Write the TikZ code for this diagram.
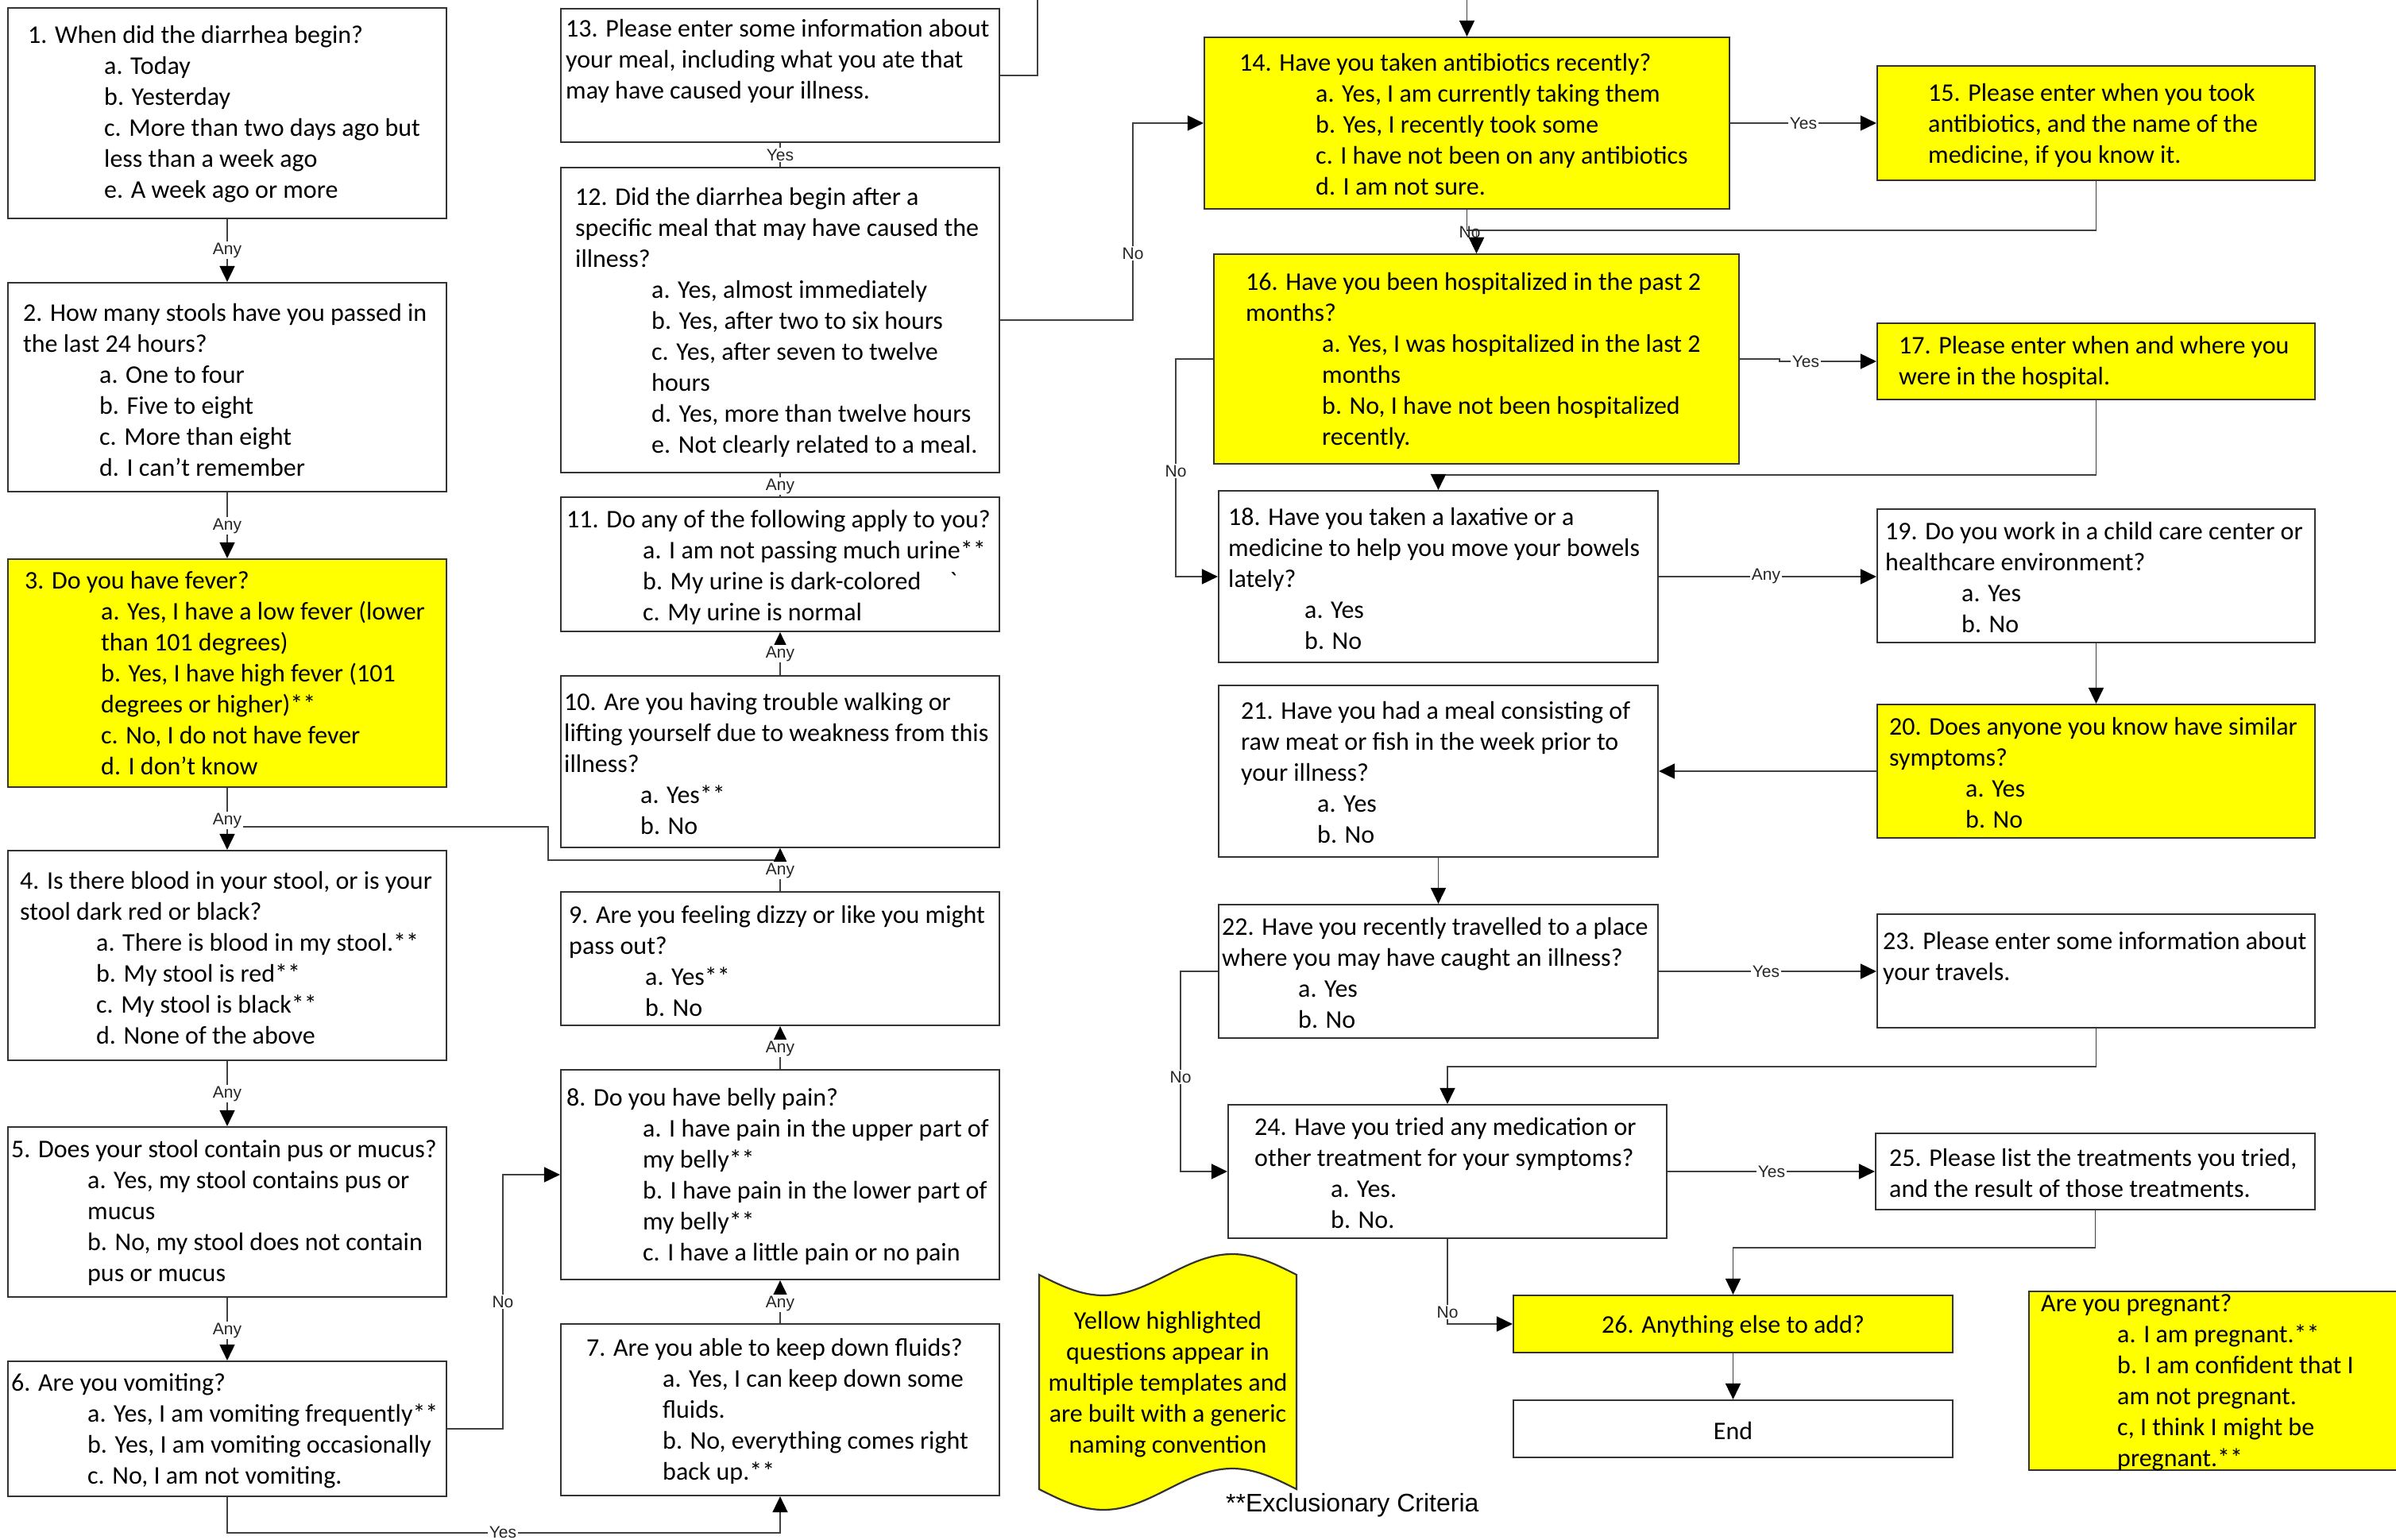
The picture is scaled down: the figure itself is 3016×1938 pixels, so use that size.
\documentclass[tikz,border=0pt]{standalone}
\usepackage{fontspec}
\setmainfont{Carlito}
\newfontfamily\arialf{Liberation Sans}
\usetikzlibrary{arrows.meta}
\definecolor{hl}{HTML}{FFFF00}
\newcommand\qbox[6]{\node[qb, fill=#6, minimum width={(#4)-(#2)}, minimum height={(#5)-(#3)}] (#1) at ({((#2)+(#4))/2},{((#3)+(#5))/2}) {};}
\newcommand\opt{\hspace*{96pt}}
\begin{document}
\begin{tikzpicture}[x=1pt,y=-1pt,
  qb/.style={rectangle, draw=black!80, line width=2.2pt, inner sep=0pt},
  qt/.style={anchor=west, align=left, inner sep=0pt, yshift=-4pt, font=\fontsize{32}{39}\selectfont},
  conn/.style={draw=black!75, line width=1.8pt, -{Triangle[length=20pt,width=19pt,color=black]}},
  plain/.style={draw=black!75, line width=1.8pt},
  lab/.style={font=\arialf\fontsize{21}{24}\selectfont, fill=white, inner sep=1.5pt, text=black!85}]
\useasboundingbox (0,0) rectangle (3016,1938);
\clip (0,0) rectangle (3016,1938);
\fill[white] (0,0) rectangle (3016,1938);

% ---------- boxes ----------
\qbox{q1}{10}{10}{562}{275}{white}
\qbox{q2}{10}{356}{562}{619}{white}
\qbox{q3}{10}{704}{562}{991}{hl}
\qbox{q4}{10}{1071}{562}{1335}{white}
\qbox{q5}{10}{1419}{562}{1633}{white}
\qbox{q6}{10}{1714}{562}{1884}{white}
\qbox{q13}{706}{11}{1258}{179}{white}
\qbox{q12}{706}{211}{1258}{595}{white}
\qbox{q11}{706}{626}{1258}{795}{white}
\qbox{q10}{706}{851}{1258}{1067}{white}
\qbox{q9}{706}{1123}{1258}{1291}{white}
\qbox{q8}{706}{1347}{1258}{1611}{white}
\qbox{q7}{706}{1667}{1258}{1883}{white}
\qbox{q14}{1516}{47}{2177}{263}{hl}
\qbox{q15}{2363}{83}{2914}{227}{hl}
\qbox{q16}{1528}{320}{2189}{584}{hl}
\qbox{q17}{2363}{407}{2914}{503}{hl}
\qbox{q18}{1534}{618}{2087}{834}{white}
\qbox{q19}{2363}{641}{2914}{809}{white}
\qbox{q20}{2363}{887}{2914}{1055}{hl}
\qbox{q21}{1534}{863}{2087}{1079}{white}
\qbox{q22}{1534}{1139}{2087}{1307}{white}
\qbox{q23}{2363}{1151}{2914}{1294}{white}
\qbox{q24}{1546}{1391}{2098}{1559}{white}
\qbox{q25}{2361}{1427}{2914}{1523}{white}
\qbox{q26}{1905}{1631}{2458}{1703}{hl}
\qbox{qend}{1905}{1763}{2458}{1835}{white}
\qbox{qpreg}{2554}{1626}{3030}{1851}{hl}

% wavy note shape
\draw[fill=hl, draw=black!80, line width=2.2pt]
  plot[domain=0:324,samples=60] ({1308+\x},{1605+26*sin(1.1111111*\x)})
  -- plot[domain=324:0,samples=60] ({1308+\x},{1875+26*sin(1.1111111*\x)}) -- cycle;

% ---------- texts ----------
\node[qt] (t1) at (35,140) {1. When did the diarrhea begin?\\ \opt a. Today\\ \opt b. Yesterday\\ \opt c. More than two days ago but\\ \opt less than a week ago\\ \opt e. A week ago or more};
\node[qt] (t2) at (29,487) {2. How many stools have you passed in\\ the last 24 hours?\\ \opt a. One to four\\ \opt b. Five to eight\\ \opt c. More than eight\\ \opt d. I can’t remember};
\node[qt] (t3) at (31,844) {3. Do you have fever?\\ \opt a. Yes, I have a low fever (lower\\ \opt than 101 degrees)\\ \opt b. Yes, I have high fever (101\\ \opt degrees or higher)**\\ \opt c. No, I do not have fever\\ \opt d. I don’t know};
\node[qt] (t4) at (25,1202) {4. Is there blood in your stool, or is your\\ stool dark red or black?\\ \opt a. There is blood in my stool.**\\ \opt b. My stool is red**\\ \opt c. My stool is black**\\ \opt d. None of the above};
\node[qt] (t5) at (14,1523) {5. Does your stool contain pus or mucus?\\ \opt a. Yes, my stool contains pus or\\ \opt mucus\\ \opt b. No, my stool does not contain\\ \opt pus or mucus};
\node[qt] (t6) at (14,1798) {6. Are you vomiting?\\ \opt a. Yes, I am vomiting frequently**\\ \opt b. Yes, I am vomiting occasionally\\ \opt c. No, I am not vomiting.};
\node[qt] (t7) at (738,1773) {7. Are you able to keep down fluids?\\ \opt a. Yes, I can keep down some\\ \opt fluids.\\ \opt b. No, everything comes right\\ \opt back up.**};
\node[qt] (t8) at (713,1477) {8. Do you have belly pain?\\ \opt a. I have pain in the upper part of\\ \opt my belly**\\ \opt b. I have pain in the lower part of\\ \opt my belly**\\ \opt c. I have a little pain or no pain};
\node[qt] (t9) at (716,1206) {9. Are you feeling dizzy or like you might\\ pass out?\\ \opt a. Yes**\\ \opt b. No};
\node[qt] (t10) at (710,958) {10. Are you having trouble walking or\\ lifting yourself due to weakness from this\\ illness?\\ \opt a. Yes**\\ \opt b. No};
\node[qt] (t11) at (713,710) {11. Do any of the following apply to you?\\ \opt a. I am not passing much urine**\\ \opt b. My urine is dark-colored\hspace{36pt}\textasciigrave\\ \opt c. My urine is normal};
\node[qt] (t12) at (724,402) {12. Did the diarrhea begin after a\\ specific meal that may have caused the\\ illness?\\ \opt a. Yes, almost immediately\\ \opt b. Yes, after two to six hours\\ \opt c. Yes, after seven to twelve\\ \opt hours\\ \opt d. Yes, more than twelve hours\\ \opt e. Not clearly related to a meal.};
\node[qt] (t13) at (712,73) {13. Please enter some information about\\ your meal, including what you ate that\\ may have caused your illness.};
\node[qt] (t14) at (1560,153) {14. Have you taken antibiotics recently?\\ \opt a. Yes, I am currently taking them\\ \opt b. Yes, I recently took some\\ \opt c. I have not been on any antibiotics\\ \opt d. I am not sure.};
\node[qt] (t15) at (2427,154) {15. Please enter when you took\\ antibiotics, and the name of the\\ medicine, if you know it.};
\node[qt] (t16) at (1568,450) {16. Have you been hospitalized in the past 2\\ months?\\ \opt a. Yes, I was hospitalized in the last 2\\ \opt months\\ \opt b. No, I have not been hospitalized\\ \opt recently.};
\node[qt] (t17) at (2390,452) {17. Please enter when and where you\\ were in the hospital.};
\node[qt] (t18) at (1546,725) {18. Have you taken a laxative or a\\ medicine to help you move your bowels\\ lately?\\ \opt a. Yes\\ \opt b. No};
\node[qt] (t19) at (2373,723) {19. Do you work in a child care center or\\ healthcare environment?\\ \opt a. Yes\\ \opt b. No};
\node[qt] (t20) at (2378,969) {20. Does anyone you know have similar\\ symptoms?\\ \opt a. Yes\\ \opt b. No};
\node[qt] (t21) at (1562,969) {21. Have you had a meal consisting of\\ raw meat or fish in the week prior to\\ your illness?\\ \opt a. Yes\\ \opt b. No};
\node[qt] (t22) at (1538,1221) {22. Have you recently travelled to a place\\ where you may have caught an illness?\\ \opt a. Yes\\ \opt b. No};
\node[qt] (t23) at (2370,1202) {23. Please enter some information about\\ your travels.};
\node[qt] (t24) at (1579,1473) {24. Have you tried any medication or\\ other treatment for your symptoms?\\ \opt a. Yes.\\ \opt b. No.};
\node[qt] (t25) at (2378,1473) {25. Please list the treatments you tried,\\ and the result of those treatments.};
\node[qt, anchor=center] (t26) at (2181.5,1666) {26. Anything else to add?};
\node[qt, anchor=center] (tend) at (2181.5,1797) {End};
\node[qt] (tpreg) at (2569,1737) {Are you pregnant?\\ \opt a. I am pregnant.**\\ \opt b. I am confident that I\\ \opt am not pregnant.\\ \opt c, I think I might be\\ \opt pregnant.**};
\node[qt, anchor=center, align=center] (twave) at (1470,1739) {Yellow highlighted\\ questions appear in\\ multiple templates and\\ are built with a generic\\ naming convention};
\node[anchor=west, inner sep=0pt, font=\arialf\fontsize{32}{38}\selectfont] (excl) at (1543,1895) {**Exclusionary Criteria};

% ---------- connectors ----------
\draw[conn] (q1) -- (q2);
\draw[conn] (q2) -- (q3);
\draw[conn] (q3) -- (q4);
\draw[conn] (q4) -- (q5);
\draw[conn] (q5) -- (q6);
\draw[conn] (q3.south) -- (286,1041) -- (690,1041) -- (690,1083) -| (q10.south);
\draw[conn] (q6.south) -- (286,1930) -| (q7.south);
\draw[conn] (q6.east) -- (633,1799) |- (q8.west);
\draw[conn] (q7) -- (q8);
\draw[conn] (q8) -- (q9);
\draw[conn] (q9) -- (q10);
\draw[conn] (q10) -- (q11);
\draw[plain] (q11) -- (q12);
\draw[plain] (q12) -- (q13);
\draw[conn] (q12.east) -- (1426,403) |- (q14.west);
\draw[conn] (q13.east) -- (1306,95) -- (1306,-30) -| (q14.north);
\draw[conn] (q14.east) -- (q15.west);
\draw[conn] (q14.south) -- (1846.5,290) -| (q16.north);
\draw[conn] (q15.south) |- (1858.5,290) -- (q16.north);
\draw[conn] (q16.east) -- (2240,452) |- (q17.west);
\draw[conn] (q16.west) -- (1480,452) |- (q18.west);
\draw[conn] (q17.south) -- (2638.5,598) -| (q18.north);
\draw[conn] (q18.east) -- (q18.east -| q19.west);
\draw[conn] (q19) -- (q20);
\draw[conn] (q20.west) -- (q20.west -| q21.east);
\draw[conn] (q21) -- (q22);
\draw[conn] (q22.east) -- (q22.east -| q23.west);
\draw[conn] (q22.west) -- (1486,1223) |- (q24.west);
\draw[conn] (q23.south) -- (2638.5,1343) -| (q24.north);
\draw[conn] (q24.east) -- (q24.east -| q25.west);
\draw[conn] (q25.south) -- (2637.5,1571) -| (q26.north);
\draw[conn] (q24.south) |- (q26.west);
\draw[conn] (q26) -- (qend);

% ---------- connector labels ----------
\node[lab] (l1) at (286,315) {Any};
\node[lab] (l2) at (286,662) {Any};
\node[lab] (l3) at (286,1033) {Any};
\node[lab] (l4) at (286,1377) {Any};
\node[lab] (l5) at (286,1675) {Any};
\node[lab] (l6) at (633,1929) {Yes};
\node[lab] (l7) at (633,1639) {No};
\node[lab] (l8) at (982,1641) {Any};
\node[lab] (l9) at (982,1320) {Any};
\node[lab] (l10) at (982,1096) {Any};
\node[lab] (l11) at (982,823) {Any};
\node[lab] (l12) at (982,612) {Any};
\node[lab] (l13) at (982,195) {Yes};
\node[lab] (l14) at (1426,319) {No};
\node[lab] (l15) at (2270,155) {Yes};
\node[lab, fill=none] (l16) at (1850,292) {No};
\node[lab] (l17) at (2273,455) {Yes};
\node[lab] (l18) at (1480,593) {No};
\node[lab] (l19) at (2223,725) {Any};
\node[lab] (l20) at (2223,1223) {Yes};
\node[lab] (l21) at (1486,1356) {No};
\node[lab] (l22) at (2230,1475) {Yes};
\node[lab] (l23) at (1822,1652) {No};
\end{tikzpicture}
\end{document}
